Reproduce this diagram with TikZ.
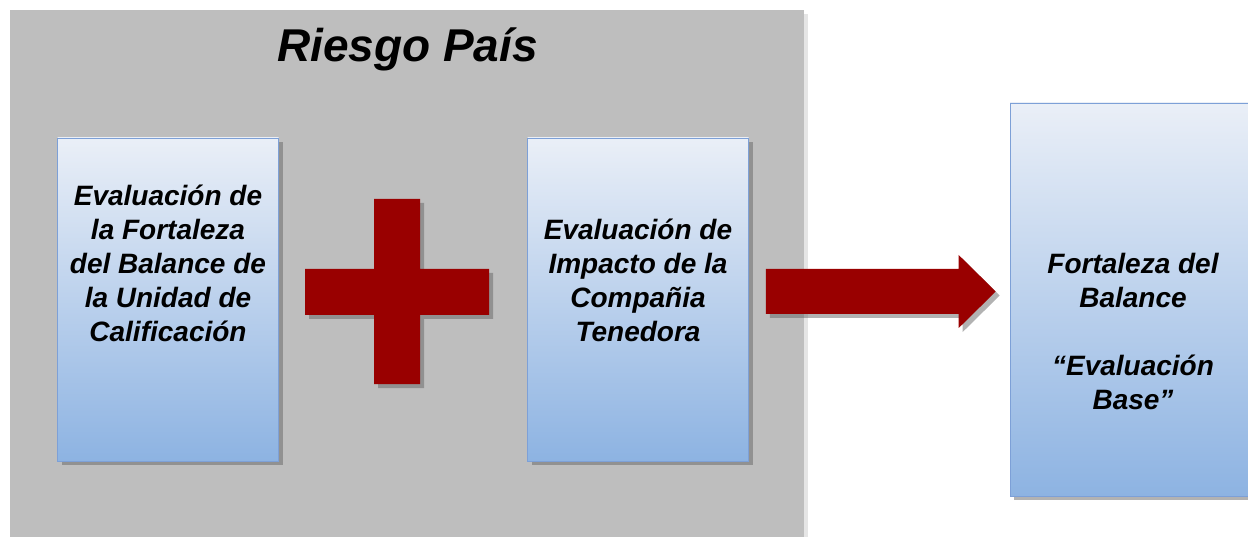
\documentclass[tikz,border=0pt]{standalone}
\usepackage{fontspec}
\setmainfont{Liberation Sans}
\usetikzlibrary{shadows}
\definecolor{panelgray}{RGB}{190,190,190}
\definecolor{boxtop}{RGB}{234,239,247}
\definecolor{boxbottom}{RGB}{141,179,226}
\definecolor{boxline}{RGB}{125,160,215}
\definecolor{crossred}{RGB}{153,0,0}
\tikzset{
  evalbox/.style={draw=boxline,line width=0.6pt,top color=boxtop,bottom color=boxbottom,
    inner sep=0pt,drop shadow={shadow xshift=4pt,shadow yshift=-4pt,fill=black!60,opacity=0.5}},
  boxtext/.style={align=center,inner sep=0pt,anchor=north,
    font=\fontsize{28}{34}\selectfont\bfseries\itshape},
  redshape/.style={fill=crossred,drop shadow={shadow xshift=4pt,shadow yshift=-4pt,fill=black!60,opacity=0.5}}
}
\begin{document}
\begin{tikzpicture}[x=1pt,y=-1pt]
\useasboundingbox (0,0) rectangle (1248,537);
\clip (0,0) rectangle (1248,537);
% panel
\fill[panelgray,drop shadow={shadow xshift=4pt,shadow yshift=-4pt,fill=black,opacity=0.1}] (10,10) rectangle (804,560);
\node[anchor=base,inner sep=0pt,font=\fontsize{46}{55}\selectfont\bfseries\itshape] (titulo) at (407.5,62) {Riesgo País};
% boxes
\node[evalbox,minimum width=221pt,minimum height=323pt] (fortaleza) at (168,299.5) {};
\node[evalbox,minimum width=221pt,minimum height=323pt] (impacto) at (638,299.5) {};
\node[evalbox,minimum width=246pt,minimum height=393pt] (base) at (1133,299.5) {};
\node[boxtext] (fortalezatxt) at (168,181.2) {\strut Evaluación de\\la Fortaleza\\del Balance de\\la Unidad de\\Calificación};
\node[boxtext] (impactotxt) at (638,215.2) {\strut Evaluación de\\Impacto de la\\Compañia\\Tenedora};
\node[boxtext] (basetxt) at (1133,249.2) {\strut Fortaleza del\\Balance\\ \\“Evaluación\\Base”};
% cross
\fill[redshape] (374,199) -- (420,199) -- (420,269) -- (489,269) -- (489,315) -- (420,315) -- (420,384)
  -- (374,384) -- (374,315) -- (305,315) -- (305,269) -- (374,269) -- cycle;
% arrow
\fill[redshape] ([xshift=17pt,yshift=30.5pt]impacto.east) -- ([xshift=-51pt,yshift=30.5pt]base.west)
  -- ([xshift=-51pt,yshift=44.5pt]base.west) -- ([xshift=-14pt,yshift=8pt]base.west)
  -- ([xshift=-51pt,yshift=-28.5pt]base.west) -- ([xshift=-51pt,yshift=-14.5pt]base.west)
  -- ([xshift=17pt,yshift=-14.5pt]impacto.east) -- cycle;
\end{tikzpicture}
\end{document}
